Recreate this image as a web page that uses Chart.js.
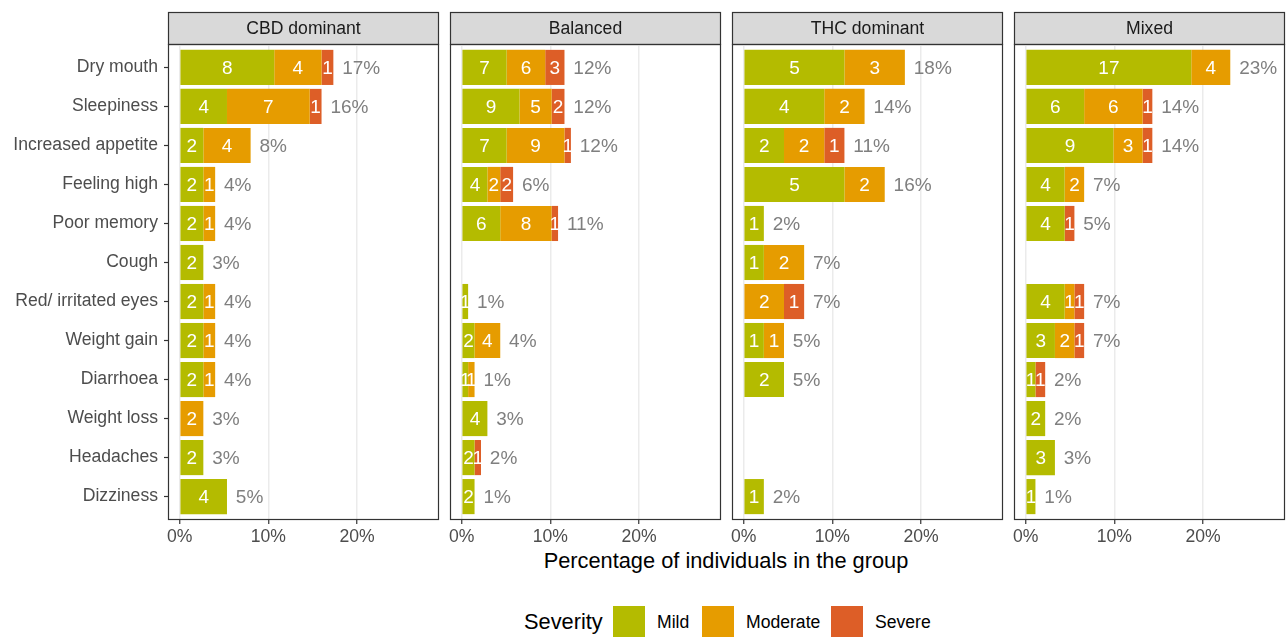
<!DOCTYPE html>
<html>
<head>
<meta charset="utf-8">
<title>Reported side effects by product type</title>
<script src="https://cdn.jsdelivr.net/npm/chart.js@4.4.1/dist/chart.umd.min.js"></script>
<style>
  body { margin: 0; background: #fff; font-family: "Liberation Sans", Arial, sans-serif; }
  #wrap { position: relative; width: 1286px; height: 637px; overflow: hidden; }
  #wrap canvas { position: absolute; top: 0; }
  #x-title { position: absolute; left: 167px; width: 1118px; top: 548px; line-height: 26px;
             text-align: center; font-size: 21.8px; color: #000; }
  .lg { position: absolute; }
  .lg-text { top: 606px; height: 32px; line-height: 32px; color: #000; font-size: 17.6px; }
  .lg-box { top: 606px; width: 32px; height: 32px; }
</style>
</head>
<body>
<div id="wrap">
  <div id="x-title">Percentage of individuals in the group</div>
  <div id="legend"></div>
</div>
<script>
const symptoms = ["Dry mouth", "Sleepiness", "Increased appetite", "Feeling high", "Poor memory", "Cough",
  "Red/ irritated eyes", "Weight gain", "Diarrhoea", "Weight loss", "Headaches", "Dizziness"];
const groups = ["CBD dominant", "Balanced", "THC dominant", "Mixed"];
const groupSize = [75, 138, 44, 91];
const severities = ["Mild", "Moderate", "Severe"];
const severityColors = ["#b4bb00", "#e69c00", "#dd5e27"];
const xTicks = [0, 10, 20];

// number of people reporting each symptom, in symptom order
const cbdMild          = [8, 4, 2, 2, 2, 2, 2, 2, 2, 0, 2, 4];
const cbdModerate      = [4, 7, 4, 1, 1, 0, 1, 1, 1, 2, 0, 0];
const cbdSevere        = [1, 1, 0, 0, 0, 0, 0, 0, 0, 0, 0, 0];
const balancedMild     = [7, 9, 7, 4, 6, 0, 1, 2, 1, 4, 2, 2];
const balancedModerate = [6, 5, 9, 2, 8, 0, 0, 4, 1, 0, 0, 0];
const balancedSevere   = [3, 2, 1, 2, 1, 0, 0, 0, 0, 0, 1, 0];
const thcMild          = [5, 4, 2, 5, 1, 1, 0, 1, 2, 0, 0, 1];
const thcModerate      = [3, 2, 2, 2, 0, 2, 2, 1, 0, 0, 0, 0];
const thcSevere        = [0, 0, 1, 0, 0, 0, 1, 0, 0, 0, 0, 0];
const mixedMild        = [17, 6, 9, 4, 4, 0, 4, 3, 1, 2, 3, 1];
const mixedModerate    = [4, 6, 3, 2, 0, 0, 1, 2, 0, 0, 0, 0];
const mixedSevere      = [0, 1, 1, 0, 1, 0, 1, 1, 1, 0, 0, 0];

const groupCounts = [
  [cbdMild, cbdModerate, cbdSevere],
  [balancedMild, balancedModerate, balancedSevere],
  [thcMild, thcModerate, thcSevere],
  [mixedMild, mixedModerate, mixedSevere]
];

const FONT = '"Liberation Sans", Arial, sans-serif';
Chart.defaults.font.family = FONT;

const panelLeft = [168, 450, 732, 1014];
const panelWidth = 271;
const stripTop = 12;

// grey strip with the group name, and the frame round the panel
const panelDecor = {
  id: 'panelDecor',
  beforeDraw(chart, args, opts) {
    const ctx = chart.ctx;
    const a = chart.chartArea;
    ctx.save();
    ctx.fillStyle = '#d9d9d9';
    ctx.fillRect(a.left, stripTop, a.right - a.left, a.top - stripTop);
    ctx.strokeStyle = '#333';
    ctx.lineWidth = 1.2;
    ctx.strokeRect(a.left + 0.5, stripTop + 0.5, a.right - a.left - 1, a.top - stripTop);
    ctx.fillStyle = '#1a1a1a';
    ctx.font = '17.6px ' + FONT;
    ctx.textAlign = 'center';
    ctx.textBaseline = 'middle';
    ctx.fillText(opts.title, (a.left + a.right) / 2, (stripTop + a.top) / 2 + 1);
    ctx.restore();
  },
  afterDraw(chart) {
    const ctx = chart.ctx;
    const a = chart.chartArea;
    ctx.save();
    ctx.strokeStyle = '#333';
    ctx.lineWidth = 1.2;
    ctx.strokeRect(a.left + 0.5, a.top + 0.5, a.right - a.left - 1, a.bottom - a.top - 1);
    ctx.restore();
  }
};

// counts inside each segment, rounded total percentage after the bar
const barLabels = {
  id: 'barLabels',
  afterDatasetsDraw(chart, args, opts) {
    const ctx = chart.ctx;
    const totals = symptoms.map(() => 0);
    ctx.save();
    ctx.font = '19px ' + FONT;
    ctx.textBaseline = 'middle';
    ctx.textAlign = 'center';
    ctx.fillStyle = '#fff';
    chart.data.datasets.forEach((ds, i) => {
      chart.getDatasetMeta(i).data.forEach((bar, j) => {
        const n = ds.counts[j];
        if (!n) return;
        totals[j] += n;
        ctx.fillText(String(n), (bar.x + bar.base) / 2, bar.y + 1);
      });
    });
    ctx.textAlign = 'left';
    ctx.fillStyle = '#7f7f7f';
    totals.forEach((t, j) => {
      if (!t) return;
      const pct = t / opts.size * 100;
      const x = chart.scales.x.getPixelForValue(pct + 1);
      const y = chart.scales.y.getPixelForValue(j);
      ctx.fillText(Math.round(pct) + '%', x, y + 1);
    });
    ctx.restore();
  }
};

const wrap = document.getElementById('wrap');

groups.forEach((name, g) => {
  const first = g === 0;
  const padL = first ? 0 : 12;
  const yWidth = first ? panelLeft[0] : 0;
  const canvas = document.createElement('canvas');
  const w = (first ? panelLeft[0] : padL) + panelWidth + 2;
  canvas.width = w;
  canvas.height = 560;
  canvas.style.left = (panelLeft[g] - (first ? panelLeft[0] : padL)) + 'px';
  canvas.style.width = w + 'px';
  canvas.style.height = '560px';
  wrap.appendChild(canvas);

  const datasets = severities.map((sev, s) => ({
    label: sev,
    counts: groupCounts[g][s],
    data: groupCounts[g][s].map((c, j) => ({ x: c / groupSize[g] * 100, y: j })),
    backgroundColor: severityColors[s],
    borderWidth: 0,
    barPercentage: 0.9,
    categoryPercentage: 1
  }));

  new Chart(canvas, {
    type: 'bar',
    data: { datasets: datasets },
    options: {
      indexAxis: 'y',
      responsive: false,
      animation: false,
      layout: { padding: { top: 44, left: padL, right: 2, bottom: 0 } },
      scales: {
        x: {
          type: 'linear',
          stacked: true,
          min: -1.32,
          max: 29.25,
          border: { display: false },
          grid: { color: '#ebebeb', lineWidth: 1.5, tickColor: '#333', tickLength: 4, tickWidth: 1.2 },
          ticks: {
            stepSize: 10,
            includeBounds: false,
            autoSkip: false,
            maxRotation: 0,
            padding: 3,
            color: '#4d4d4d',
            font: { size: 17.6 },
            callback: v => xTicks.includes(v) ? v + '%' : ''
          },
          afterFit: scale => { scale.height = 40; }
        },
        y: {
          type: 'linear',
          stacked: true,
          reverse: true,
          offset: false,
          min: -0.6,
          max: 11.6,
          display: first,
          border: { display: false },
          grid: { offset: false, drawOnChartArea: false, tickColor: '#333', tickLength: 4, tickWidth: 1.2 },
          ticks: {
            stepSize: 1,
            includeBounds: false,
            autoSkip: false,
            padding: 6,
            color: '#4d4d4d',
            font: { size: 17.6 },
            callback: v => Number.isInteger(v) ? symptoms[v] : ''
          },
          afterFit: scale => { scale.width = yWidth; }
        }
      },
      plugins: {
        legend: { display: false },
        tooltip: { enabled: false },
        panelDecor: { title: name },
        barLabels: { size: groupSize[g] }
      }
    },
    plugins: [panelDecor, barLabels]
  });
});

// legend along the bottom
const legend = document.getElementById('legend');
const boxLeft = [613, 702, 831];
const textLeft = [657, 746, 875];
let html = '<div class="lg lg-text" style="left:524px;font-size:21.8px">Severity</div>';
severities.forEach((sev, s) => {
  html += `<div class="lg lg-box" style="left:${boxLeft[s]}px;background:${severityColors[s]}"></div>`;
  html += `<div class="lg lg-text" style="left:${textLeft[s]}px">${sev}</div>`;
});
legend.innerHTML = html;
</script>
</body>
</html>
